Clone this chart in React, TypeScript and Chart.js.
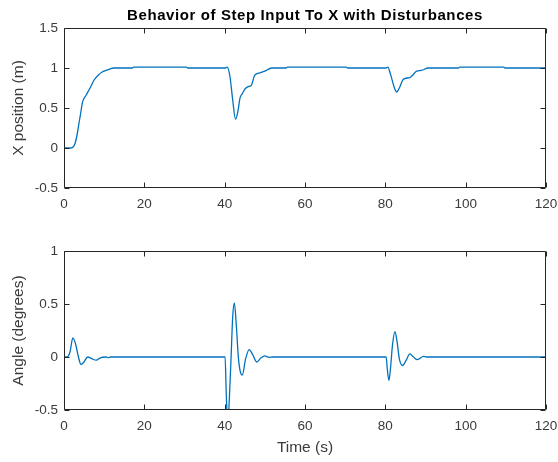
import React, { useEffect, useRef } from 'react';
import { Chart, registerables } from 'chart.js';

Chart.register(...registerables);

const FIG_TITLE = 'Behavior of Step Input To X with Disturbances';
const TOP_Y_LABEL = 'X position (m)';
const BOTTOM_Y_LABEL = 'Angle (degrees)';
const X_LABEL = 'Time (s)';

const X_TICKS = [0, 20, 40, 60, 80, 100, 120];
const POS_TICKS = [-0.5, 0, 0.5, 1, 1.5];
const ANGLE_TICKS = [-0.5, 0, 0.5, 1];

const POS_TIME = [
  0, 1.6, 2.2, 2.7, 3.2, 3.7, 4.2, 4.6, 5.5, 6.5, 7.5, 8.5, 9.5, 10.5, 11.5, 12.4,
  17.0, 17.3, 30.5, 30.8, 40.2, 40.6, 41.3, 42.0, 42.7, 43.3, 43.8, 44.4, 45.1, 46.1,
  46.6, 47.5, 48.8, 50.0, 51.7, 55.3, 55.6, 70.3, 70.6, 80.2, 80.6, 81.3, 82.2, 82.8,
  83.4, 84.5, 86.1, 86.6, 87.8, 89.0, 90.7, 98.2, 98.5, 109.5, 109.8, 120,
];
const POS_VALUES = [
  0, 0, 0.01, 0.05, 0.15, 0.3, 0.45, 0.57, 0.66, 0.75, 0.85, 0.91, 0.95, 0.97, 0.99, 1.0,
  1.0, 1.01, 1.01, 1.0, 1.0, 1.01, 0.9, 0.6, 0.36, 0.46, 0.62, 0.68, 0.74, 0.77,
  0.78, 0.91, 0.94, 0.96, 1.0, 1.0, 1.01, 1.01, 1.0, 1.0, 1.01, 0.92, 0.76, 0.7,
  0.74, 0.86, 0.88, 0.9, 0.96, 0.97, 1.0, 1.0, 1.01, 1.01, 1.0, 1.0,
];

const ANGLE_TIME = [
  0, 0.8, 1.5, 2.2, 2.9, 3.6, 4.2, 4.9, 5.9, 6.9, 8.0, 9.2, 10.5, 11.0, 11.6,
  40.1, 40.4, 40.8, 41.1, 41.6, 42.0, 42.4, 42.9, 43.4, 43.9, 44.4, 45.2, 46.1, 47.0,
  48.0, 49.0, 50.0, 51.0, 52.0,
  80.2, 80.5, 80.9, 81.3, 81.8, 82.4, 82.9, 83.5, 84.3, 85.2, 86.1, 87.0, 88.0, 89.5,
  90.2, 120,
];
const ANGLE_VALUES = [
  0, 0, 0.05, 0.18, 0.12, 0, -0.07, -0.05, 0.0, -0.015, -0.03, -0.005, 0.0, -0.005, 0,
  0, -0.35, -0.65, -0.45, 0.0, 0.38, 0.51, 0.3, 0.0, -0.14, -0.17, -0.02, 0.07, 0.02,
  -0.047, -0.01, 0.01, -0.003, 0,
  0, -0.12, -0.22, -0.1, 0.12, 0.24, 0.15, -0.02, -0.08, -0.03, 0.03, 0.0, -0.025, 0.005,
  0, 0,
];

const FONT = '"Liberation Sans", Arial, Helvetica, sans-serif';
const AXIS_COLOR = '#262626';
const LABEL_COLOR = '#3a3a3a';
const LINE_COLOR = '#0072BD';

const boxPlugin = {
  id: 'matlabBox',
  afterDatasetsDraw(chart: any) {
    const { ctx, chartArea: a, scales } = chart;
    const xs = scales.x;
    const ys = scales.y;
    const L = Math.round(a.left) + 0.5;
    const R = Math.round(a.right) - 0.5;
    const T = Math.round(a.top) + 0.5;
    const B = Math.round(a.bottom) - 0.5;
    const len = 5;
    ctx.save();
    ctx.strokeStyle = AXIS_COLOR;
    ctx.lineWidth = 1;
    ctx.beginPath();
    ctx.rect(L, T, R - L, B - T);
    for (const t of xs.ticks) {
      const px = Math.round(xs.getPixelForValue(t.value)) + 0.5;
      ctx.moveTo(px, B);
      ctx.lineTo(px, B - len);
      ctx.moveTo(px, T);
      ctx.lineTo(px, T + len);
    }
    for (const t of ys.ticks) {
      const py = Math.round(ys.getPixelForValue(t.value)) + 0.5;
      ctx.moveTo(L, py);
      ctx.lineTo(L + len, py);
      ctx.moveTo(R, py);
      ctx.lineTo(R - len, py);
    }
    ctx.stroke();
    ctx.restore();
  },
};

const titlePlugin = {
  id: 'figTitle',
  afterDraw(chart: any) {
    const text = chart.options.plugins?.figTitle?.text;
    if (!text) return;
    const { ctx, chartArea: a } = chart;
    ctx.save();
    ctx.font = `bold 15px ${FONT}`;
    try {
      (ctx as any).letterSpacing = '0.6px';
    } catch (e) {}
    ctx.fillStyle = '#000000';
    ctx.textAlign = 'center';
    ctx.textBaseline = 'alphabetic';
    ctx.fillText(text, (a.left + a.right) / 2, 20);
    ctx.restore();
  },
};

function makeConfig(
  times: number[],
  values: number[],
  yTicks: number[],
  yLabel: string,
  opts: { padTop: number; xHeight: number; xTitle?: string; figTitle?: string }
): any {
  return {
    type: 'line',
    data: {
      datasets: [
        {
          data: times.map((t, i) => ({ x: t, y: values[i] })),
          borderColor: LINE_COLOR,
          borderWidth: 1.3,
          pointRadius: 0,
          fill: false,
          cubicInterpolationMode: 'monotone',
        },
      ],
    },
    options: {
      responsive: false,
      animation: false,
      devicePixelRatio: 1,
      layout: { padding: { top: opts.padTop, right: 12, left: 0, bottom: 0 } },
      plugins: {
        legend: { display: false },
        tooltip: { enabled: false },
        title: { display: false },
        figTitle: { text: opts.figTitle || '' },
      },
      scales: {
        x: {
          type: 'linear',
          min: X_TICKS[0],
          max: X_TICKS[X_TICKS.length - 1],
          grid: { display: false, tickLength: 0 },
          border: { display: false },
          afterBuildTicks: (s: any) => {
            s.ticks = X_TICKS.map((v) => ({ value: v }));
          },
          afterFit: (s: any) => {
            s.height = opts.xHeight;
            s.paddingLeft = 0;
            s.paddingRight = 0;
          },
          ticks: {
            color: LABEL_COLOR,
            font: { family: FONT, size: 13.5 },
            padding: 8,
            maxRotation: 0,
            autoSkip: false,
            callback: (v: any) => String(v),
          },
          title: opts.xTitle
            ? {
                display: true,
                text: opts.xTitle,
                color: LABEL_COLOR,
                font: { family: FONT, size: 15.5 },
                padding: { top: 0, bottom: 5 },
              }
            : { display: false },
        },
        y: {
          type: 'linear',
          min: yTicks[0],
          max: yTicks[yTicks.length - 1],
          grid: { display: false, tickLength: 0 },
          border: { display: false },
          afterBuildTicks: (s: any) => {
            s.ticks = yTicks.map((v) => ({ value: v }));
          },
          afterFit: (s: any) => {
            s.width = 64;
            s.paddingTop = 0;
            s.paddingBottom = 0;
          },
          ticks: {
            color: LABEL_COLOR,
            font: { family: FONT, size: 13.5 },
            padding: 6,
            autoSkip: false,
            callback: (v: any) => String(v),
          },
          title: {
            display: true,
            text: yLabel,
            color: LABEL_COLOR,
            font: { family: FONT, size: 15.5 },
            padding: { top: 9, bottom: 0 },
          },
        },
      },
    },
    plugins: [boxPlugin, titlePlugin],
  };
}

export default function App() {
  const topRef = useRef<HTMLCanvasElement | null>(null);
  const bottomRef = useRef<HTMLCanvasElement | null>(null);

  useEffect(() => {
    const prevMargin = document.body.style.margin;
    document.body.style.margin = '0';
    const c1 = new Chart(
      topRef.current as HTMLCanvasElement,
      makeConfig(POS_TIME, POS_VALUES, POS_TICKS, TOP_Y_LABEL, {
        padTop: 28,
        xHeight: 42,
        figTitle: FIG_TITLE,
      })
    );
    const c2 = new Chart(
      bottomRef.current as HTMLCanvasElement,
      makeConfig(ANGLE_TIME, ANGLE_VALUES, ANGLE_TICKS, BOTTOM_Y_LABEL, {
        padTop: 21,
        xHeight: 52,
        xTitle: X_LABEL,
      })
    );
    return () => {
      c1.destroy();
      c2.destroy();
      document.body.style.margin = prevMargin;
    };
  }, []);

  return (
    <div
      style={{
        position: 'fixed',
        left: 0,
        top: 0,
        width: 558,
        height: 462,
        background: '#ffffff',
      }}
    >
      <canvas
        ref={topRef}
        width={558}
        height={230}
        style={{ position: 'absolute', left: 0, top: 0, width: 558, height: 230, display: 'block' }}
      />
      <canvas
        ref={bottomRef}
        width={558}
        height={232}
        style={{ position: 'absolute', left: 0, top: 230, width: 558, height: 232, display: 'block' }}
      />
    </div>
  );
}
